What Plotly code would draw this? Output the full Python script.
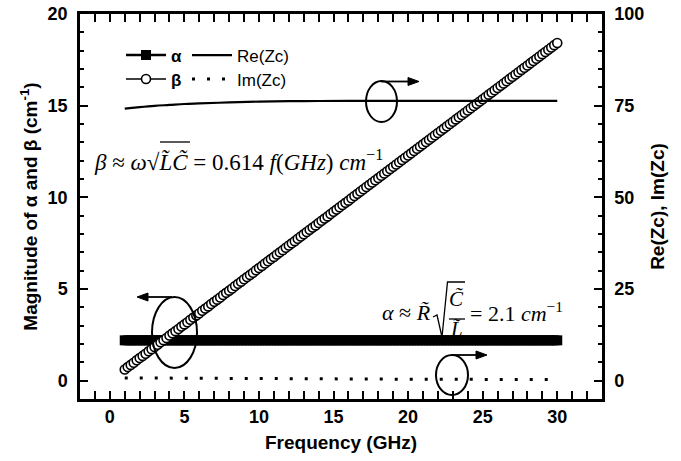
import plotly.graph_objects as go

# ---------------- data ----------------
freq = [
    1.0, 1.2, 1.4, 1.6, 1.8, 2.0, 2.2, 2.4, 2.6, 2.8, 3.0, 3.2, 3.4, 3.6, 3.8,
    4.0, 4.2, 4.4, 4.6, 4.8, 5.0, 5.2, 5.4, 5.6, 5.8, 6.0, 6.2, 6.4, 6.6, 6.8,
    7.0, 7.2, 7.4, 7.6, 7.8, 8.0, 8.2, 8.4, 8.6, 8.8, 9.0, 9.2, 9.4, 9.6, 9.8,
    10.0, 10.2, 10.4, 10.6, 10.8, 11.0, 11.2, 11.4, 11.6, 11.8, 12.0, 12.2, 12.4, 12.6, 12.8,
    13.0, 13.2, 13.4, 13.6, 13.8, 14.0, 14.2, 14.4, 14.6, 14.8, 15.0, 15.2, 15.4, 15.6, 15.8,
    16.0, 16.2, 16.4, 16.6, 16.8, 17.0, 17.2, 17.4, 17.6, 17.8, 18.0, 18.2, 18.4, 18.6, 18.8,
    19.0, 19.2, 19.4, 19.6, 19.8, 20.0, 20.2, 20.4, 20.6, 20.8, 21.0, 21.2, 21.4, 21.6, 21.8,
    22.0, 22.2, 22.4, 22.6, 22.8, 23.0, 23.2, 23.4, 23.6, 23.8, 24.0, 24.2, 24.4, 24.6, 24.8,
    25.0, 25.2, 25.4, 25.6, 25.8, 26.0, 26.2, 26.4, 26.6, 26.8, 27.0, 27.2, 27.4, 27.6, 27.8,
    28.0, 28.2, 28.4, 28.6, 28.8, 29.0, 29.2, 29.4, 29.6, 29.8, 30.0,
]
beta = [
    0.61, 0.74, 0.86, 0.98, 1.11, 1.23, 1.35, 1.47, 1.60, 1.72, 1.84, 1.96, 2.09, 2.21, 2.33,
    2.46, 2.58, 2.70, 2.82, 2.95, 3.07, 3.19, 3.32, 3.44, 3.56, 3.68, 3.81, 3.93, 4.05, 4.18,
    4.30, 4.42, 4.54, 4.67, 4.79, 4.91, 5.03, 5.16, 5.28, 5.40, 5.53, 5.65, 5.77, 5.89, 6.02,
    6.14, 6.26, 6.39, 6.51, 6.63, 6.75, 6.88, 7.00, 7.12, 7.25, 7.37, 7.49, 7.61, 7.74, 7.86,
    7.98, 8.11, 8.23, 8.35, 8.47, 8.60, 8.72, 8.84, 8.96, 9.09, 9.21, 9.33, 9.46, 9.58, 9.70,
    9.82, 9.95, 10.07, 10.19, 10.32, 10.44, 10.56, 10.68, 10.81, 10.93, 11.05, 11.18, 11.30, 11.42, 11.54,
    11.67, 11.79, 11.91, 12.03, 12.16, 12.28, 12.40, 12.53, 12.65, 12.77, 12.89, 13.02, 13.14, 13.26, 13.39,
    13.51, 13.63, 13.75, 13.88, 14.00, 14.12, 14.25, 14.37, 14.49, 14.61, 14.74, 14.86, 14.98, 15.10, 15.23,
    15.35, 15.47, 15.60, 15.72, 15.84, 15.96, 16.09, 16.21, 16.33, 16.46, 16.58, 16.70, 16.82, 16.95, 17.07,
    17.19, 17.32, 17.44, 17.56, 17.68, 17.81, 17.93, 18.05, 18.17, 18.30, 18.42,
]
alpha = [2.2] * len(freq)

re_freq = [1.0, 2.0, 3.0, 4.0, 5.0, 6.0, 8.0, 10.0, 13.0, 16.0, 20.0, 25.0, 30.0]
re_zc = [74.2, 74.6, 74.95, 75.2, 75.45, 75.6, 75.9, 76.1, 76.25, 76.3, 76.3, 76.3, 76.3]

im_freq = [1.0, 3.0, 5.0, 10.0, 15.0, 20.0, 25.0, 30.0]
im_zc = [0.75, 0.7, 0.6, 0.5, 0.45, 0.4, 0.35, 0.35]

x_range = [-2, 33]
y_range = [-1, 20]
y2_range = [-5, 100]

# ---------------- geometry (body margin removed by post_script) ----------------
W, H = 681, 461
ML, MT = 80, 14
MR, MB = W - 602, H - 399
PW, PH = W - ML - MR, H - MT - MB


def px(x):
    return (x - ML) / PW


def py(y):
    return (H - MB - y) / PH


SANS = "Arial, Liberation Sans, sans-serif"
SERIF = "Times New Roman, Liberation Serif, serif"

fig = go.Figure()

fig.add_trace(go.Scatter(
    x=freq, y=alpha, name="<b>α</b>", mode="lines+markers",
    line=dict(color="black", width=2.5),
    marker=dict(symbol="square", size=10, color="black", line=dict(width=0)),
    legend="legend", showlegend=True,
))
fig.add_trace(go.Scatter(
    x=freq, y=beta, name="<b>β</b>", mode="lines+markers",
    line=dict(color="black", width=1.5),
    marker=dict(symbol="circle", size=9, color="white", line=dict(color="black", width=1.6)),
    legend="legend2", showlegend=True,
))
fig.add_trace(go.Scatter(
    x=re_freq, y=re_zc, name="Re(Zc)", mode="lines", yaxis="y2",
    line=dict(color="black", width=2.2, shape="spline"),
    legend="legend3", showlegend=True,
))
fig.add_trace(go.Scatter(
    x=im_freq, y=im_zc, name="Im(Zc)", mode="lines", yaxis="y2",
    line=dict(color="black", width=3, dash="3px,12px"),
    legend="legend4", showlegend=True,
))

axis_common = dict(
    showline=True, linecolor="black", linewidth=2.5,
    ticks="inside", ticklen=8, tickwidth=2, tickcolor="black",
    showgrid=False, zeroline=False, automargin=False,
    tickfont=dict(family=SANS, size=18, color="black", weight="bold"),
)


def leg(xp, yp):
    return dict(
        x=px(xp), y=py(yp), xanchor="left", yanchor="middle",
        bgcolor="rgba(0,0,0,0)", font=dict(family=SANS, size=17, color="black"),
        tracegroupgap=0, itemwidth=40,
    )


fig.update_layout(
    width=W, height=H,
    margin=dict(l=ML, r=MR, t=MT, b=MB, autoexpand=False),
    paper_bgcolor="white", plot_bgcolor="white",
    font=dict(family=SANS, color="black"),
    showlegend=True,
    xaxis=dict(
        range=x_range, tick0=0, dtick=5, mirror="allticks",
        minor=dict(dtick=1, ticks="inside", ticklen=4, tickwidth=1.5, tickcolor="black"),
        title=dict(text="<b>Frequency (GHz)</b>", font=dict(family=SANS, size=19), standoff=10),
        **axis_common,
    ),
    yaxis=dict(
        range=y_range, tick0=0, dtick=5,
        minor=dict(dtick=1, ticks="inside", ticklen=4, tickwidth=1.5, tickcolor="black"),
        title=dict(text="<b>Magnitude of α and β (cm<sup>-1</sup>)</b>", font=dict(family=SANS, size=19), standoff=5),
        ticklabelstandoff=6,
        **axis_common,
    ),
    yaxis2=dict(
        range=y2_range, tick0=0, dtick=25, overlaying="y", side="right",
        minor=dict(dtick=5, ticks="inside", ticklen=4, tickwidth=1.5, tickcolor="black"),
        title=dict(text="<b>Re(Zc), Im(Zc)</b>", font=dict(family=SANS, size=19), standoff=8),
        ticklabelstandoff=6,
        **axis_common,
    ),
    legend=leg(121, 55.5),
    legend2=leg(121, 79.5),
    legend3=leg(187, 55.5),
    legend4=leg(187, 79.5),
)

# ---------------- formula annotations ----------------
fig.add_annotation(
    xref="paper", yref="paper", x=px(92), y=py(160), xanchor="left", yanchor="middle",
    text="<i>β</i> ≈ <i>ω</i>√<i>L̃C̃</i> = 0.614 <i>f</i>(<i>GHz</i>) <i>cm</i><sup>−1</sup>",
    showarrow=False, font=dict(family=SERIF, size=23, color="black"),
)
fig.add_annotation(
    xref="paper", yref="paper", x=px(433), y=py(312), xanchor="right", yanchor="middle",
    text="<i>α</i> ≈ <i>R̃</i>",
    showarrow=False, font=dict(family=SERIF, size=22, color="black"),
)
fig.add_annotation(
    xref="paper", yref="paper", x=px(456), y=py(299), xanchor="center", yanchor="middle",
    text="<i>C̃</i>", showarrow=False, font=dict(family=SERIF, size=21, color="black"),
)
fig.add_annotation(
    xref="paper", yref="paper", x=px(456), y=py(329), xanchor="center", yanchor="middle",
    text="<i>L̃</i>", showarrow=False, font=dict(family=SERIF, size=21, color="black"),
)
fig.add_annotation(
    xref="paper", yref="paper", x=px(468), y=py(312), xanchor="left", yanchor="middle",
    text="= 2.1 <i>cm</i><sup>−1</sup>",
    showarrow=False, font=dict(family=SERIF, size=22, color="black"),
)

# radical sign and fraction bar for alpha formula
rad = [(433, 317), (437, 315), (442, 337), (447.5, 282), (465, 282)]
path = "M " + " L ".join(f"{px(a)},{py(b)}" for a, b in rad)
fig.add_shape(type="path", xref="paper", yref="paper", path=path,
              line=dict(color="black", width=1.3))
fig.add_shape(type="line", xref="paper", yref="paper",
              x0=px(449), x1=px(465), y0=py(319), y1=py(319),
              line=dict(color="black", width=1.3))
# overline of the beta radical
fig.add_shape(type="line", xref="paper", yref="paper",
              x0=px(160), x1=px(190), y0=py(142), y1=py(142),
              line=dict(color="black", width=1.3))

# ---------------- ellipses and arrows ----------------
ellipses = [
    (152, 297, 197, 368),   # left: alpha & beta -> left axis
    (366, 81, 397, 122),    # top: Re(Zc) -> right axis
    (436, 355, 468, 395),   # bottom: Im(Zc) -> right axis
]
for x0, y0, x1, y1 in ellipses:
    fig.add_shape(type="circle", xref="paper", yref="paper",
                  x0=px(x0), x1=px(x1), y0=py(y1), y1=py(y0),
                  line=dict(color="black", width=2))

arrows = [
    ((137, 297), (172, 297)),   # head, tail
    ((419, 81.5), (381, 81.5)),
    ((487, 355), (452, 355)),
]
for (hx, hy), (tx, ty) in arrows:
    d = 1 if hx > tx else -1
    fig.add_shape(type="line", xref="paper", yref="paper",
                  x0=px(tx), x1=px(hx - d * 6), y0=py(ty), y1=py(hy),
                  line=dict(color="black", width=1.8))
    tri = [(hx, hy), (hx - d * 11, hy - 4), (hx - d * 11, hy + 4)]
    tpath = "M " + " L ".join(f"{px(a)},{py(b)}" for a, b in tri) + " Z"
    fig.add_shape(type="path", xref="paper", yref="paper", path=tpath,
                  fillcolor="black", line=dict(color="black", width=1))

fig.write_html(
    "out.html",
    config={"displayModeBar": False},
    post_script="document.body.style.margin='0';document.body.style.overflow='hidden';",
)
